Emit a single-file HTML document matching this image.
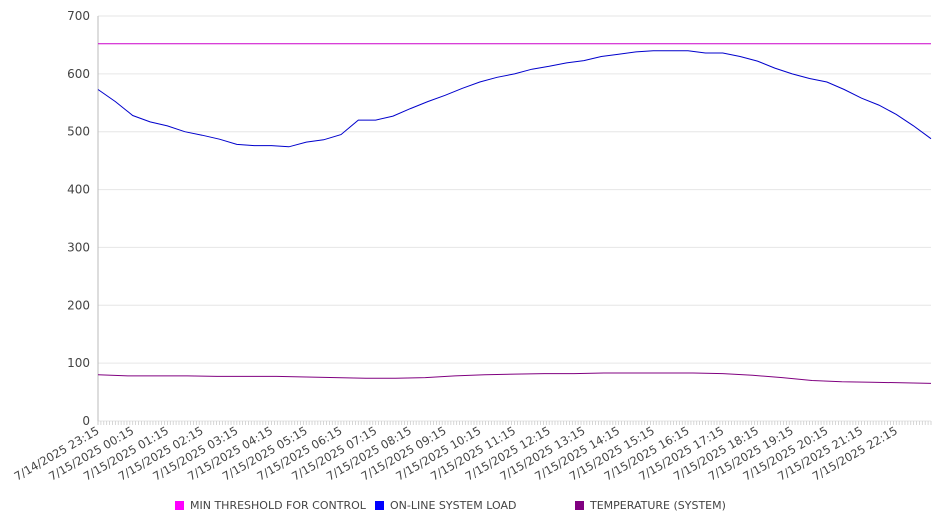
<!DOCTYPE html>
<html><head><meta charset="utf-8"><style>
body{margin:0;background:#fff;}
svg text{font-family:"DejaVu Sans","Liberation Sans",sans-serif;fill:#444;}
</style></head><body>
<svg id="chart" width="946" height="526" xmlns="http://www.w3.org/2000/svg">
<g id="grid"></g>
<g id="yaxis"></g>
<g id="xaxis"></g>
<g id="series"></g>
<g id="legend"></g>
</svg>
<script>
const xLabels=["7/14/2025 23:15","7/15/2025 00:15","7/15/2025 01:15","7/15/2025 02:15","7/15/2025 03:15","7/15/2025 04:15","7/15/2025 05:15","7/15/2025 06:15","7/15/2025 07:15","7/15/2025 08:15","7/15/2025 09:15","7/15/2025 10:15","7/15/2025 11:15","7/15/2025 12:15","7/15/2025 13:15","7/15/2025 14:15","7/15/2025 15:15","7/15/2025 16:15","7/15/2025 17:15","7/15/2025 18:15","7/15/2025 19:15","7/15/2025 20:15","7/15/2025 21:15","7/15/2025 22:15"];
const yTicks=[0,100,200,300,400,500,600,700];
const thresholdValue=652;
const loadValues=[573,552,528,517,510,500,494,487,478,476,476,474,482,486,495,520,520,527,540,552,563,575,586,594,600,608,613,619,623,630,634,638,640,640,640,636,636,630,622,610,600,592,586,573,558,546,530,510,488];
const tempValues=[80,78,78,78,77,77,77,76,75,74,74,75,78,80,81,82,82,83,83,83,83,82,79,75,70,68,67,66,65];
const legendNames=["MIN THRESHOLD FOR CONTROL","ON-LINE SYSTEM LOAD","TEMPERATURE (SYSTEM)"];
const legendColors=["#ff00ff","#0000ff","#800080"];

const NS="http://www.w3.org/2000/svg";
const X0=98,X1=931,Y0=421,Y1=16,HOURS=24;
const xS=h=>X0+(X1-X0)*h/HOURS;
const yS=v=>Y0-(Y0-Y1)*v/700;
function mk(tag,attrs,parent){const e=document.createElementNS(NS,tag);for(const k in attrs)e.setAttribute(k,attrs[k]);parent.appendChild(e);return e;}
const grid=document.getElementById('grid'),ya=document.getElementById('yaxis'),xa=document.getElementById('xaxis'),se=document.getElementById('series'),lg=document.getElementById('legend');
yTicks.forEach(v=>{
 const l=mk('line',{x1:X0,x2:X1,y1:yS(v),y2:yS(v),stroke:'#e6e6e6','stroke-width':1},grid);
 
 
 const t=mk('text',{x:X0-8,y:yS(v)+4,'text-anchor':'end','font-size':12},ya);
 t.textContent=v;
 
 
});
const ax=mk('line',{x1:X0,x2:X0,y1:Y1,y2:Y0+4,stroke:'#bbb'},ya);


for(let i=0;i<=HOURS*12;i++){
 const x=xS(i/12);
 const tk=mk('line',{x1:x,x2:x,y1:Y0,y2:Y0+4,stroke:'#ccc','stroke-width':0.8},xa);
 
 
}
xLabels.forEach((s,i)=>{
 const x=xS(i)+2,y=Y0+12;
 const t=mk('text',{x:x,y:y,'text-anchor':'end','font-size':11.5,transform:`rotate(-30 ${x} ${y})`},xa);
 t.textContent=s;
 
 
});
function line(vals,color,name){
 const n=vals.length-1;
 const pts=vals.map((v,i)=>xS(HOURS*i/n).toFixed(1)+','+yS(v).toFixed(1)).join(' ');
 const p=mk('polyline',{points:pts,fill:'none',stroke:color,'stroke-width':1},se);
 
 
}
line([thresholdValue,thresholdValue],'#cc00cc','threshold-line');
line(tempValues,'#800080','temperature-line');
line(loadValues,'#0000cc','system-load-line');
const lx=[175,375,575];
legendNames.forEach((n,i)=>{
 const r=mk('rect',{x:lx[i],y:501,width:9,height:9,fill:legendColors[i]},lg);
 
 
 const t=mk('text',{x:lx[i]+15,y:509,'font-size':11},lg);
 t.textContent=n;
 
 
});
</script>
</body></html>
